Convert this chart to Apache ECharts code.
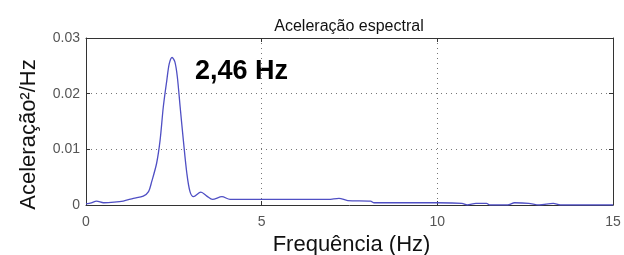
<!DOCTYPE html>
<html>
<head>
<meta charset="utf-8">
<script src="https://cdn.jsdelivr.net/npm/echarts@6/dist/echarts.min.js"></script>
<style>
  html, body { margin: 0; padding: 0; background: #fff; }
  #chart { width: 624px; height: 255px; }
</style>
</head>
<body>
<div id="chart"></div>
<script>
// frequência (Hz) e aceleração espectral
var freq = [0, 0.15, 0.3, 0.5, 0.8, 1.06, 1.35, 1.63, 1.78, 1.87, 2.01, 2.11, 2.2, 2.3, 2.37, 2.45,
    2.53, 2.6, 2.68, 2.77, 2.87, 2.96, 3.06, 3.27, 3.44, 3.6, 3.87, 4.1, 5, 6, 6.9, 7.2, 7.45,
    8.1, 8.2, 9, 10, 10.7, 10.85, 11.1, 11.4, 11.5, 12.0, 12.2, 12.6, 12.9, 13.3, 13.5, 14, 15];
var acel = [0.0002, 0.0004, 0.0007, 0.0004, 0.0005, 0.0007, 0.0012, 0.0016, 0.0024, 0.0042, 0.0075,
    0.0117, 0.0176, 0.0224, 0.0254, 0.0265, 0.0257, 0.023, 0.0176, 0.0117, 0.0057, 0.0024, 0.0015,
    0.0023, 0.0016, 0.001, 0.0015, 0.001, 0.001, 0.001, 0.001, 0.0012, 0.0008, 0.0007, 0.0004,
    0.0004, 0.0004, 0.0003, 0.0, 0.0003, 0.0003, 0.0, 0.0, 0.0004, 0.0003, 0.0, 0.0003, 0.0, 0.0, 0.0];
var xTicks = [0, 5, 10, 15];
var yTicks = [0, 0.01, 0.02, 0.03];

var pts = [];
for (var i = 0; i < freq.length; i++) {
    pts.push([freq[i], acel[i]]);
}

var chart = echarts.init(document.getElementById('chart'));
var fonte = 'Liberation Sans, Arial, sans-serif';

var eixoBase = {
    axisLine: { show: true, onZero: false, lineStyle: { color: '#333', width: 1 } },
    axisTick: { show: true, inside: true, length: 4, lineStyle: { color: '#333' } }
};

var option = {
    animation: false,
    title: {
        text: 'Aceleração espectral',
        left: 344, top: 14, textAlign: 'center',
        textStyle: { fontFamily: fonte, fontSize: 16, fontWeight: 'normal', color: '#111' }
    },
    grid: { left: 86, right: 11, top: 38, bottom: 50, outerBoundsMode: 'none' },
    xAxis: [
        Object.assign({
            type: 'value', min: xTicks[0], max: xTicks[3], interval: 5,
            name: 'Frequência (Hz)', nameLocation: 'middle', nameGap: 27,
            nameTextStyle: { fontFamily: fonte, fontSize: 22, color: '#111', padding: [0, 0, 0, 4] },
            axisLabel: { fontFamily: fonte, fontSize: 14, color: '#555', margin: 10 },
            splitLine: { show: true, lineStyle: { type: [1, 4], color: '#777' } }
        }, eixoBase),
        Object.assign({
            type: 'value', position: 'top', min: 0, max: 15, interval: 5,
            axisLabel: { show: false }, splitLine: { show: false }
        }, eixoBase)
    ],
    yAxis: [
        Object.assign({
            type: 'value', min: yTicks[0], max: yTicks[3], interval: 0.01,
            name: 'Aceleração²/Hz', nameLocation: 'middle', nameGap: 46,
            nameTextStyle: { fontFamily: fonte, fontSize: 22, color: '#111', padding: [0, 26, 0, 0] },
            axisLabel: { fontFamily: fonte, fontSize: 14, color: '#555', margin: 6 },
            splitLine: { show: true, lineStyle: { type: [1, 4], color: '#777' } }
        }, eixoBase),
        Object.assign({
            type: 'value', position: 'right', min: 0, max: 0.03, interval: 0.01,
            axisLabel: { show: false }, splitLine: { show: false }
        }, eixoBase)
    ],
    graphic: [{
        type: 'text', left: 195, top: 58,
        style: { text: '2,46 Hz', fontFamily: fonte, fontSize: 27, fontWeight: 'bold', fill: '#000' }
    }],
    series: [{
        type: 'line',
        data: pts,
        smooth: 0.3,
        symbol: 'none',
        lineStyle: { color: '#4f4fc4', width: 1.3 }
    }]
};
chart.setOption(option);
</script>
</body>
</html>
